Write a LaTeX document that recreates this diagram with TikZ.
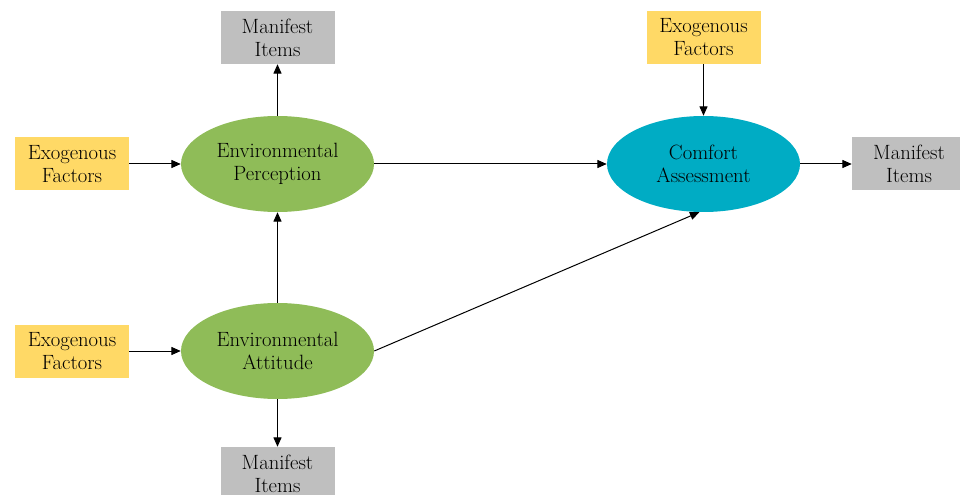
\documentclass[tikz,border=0pt]{standalone}
\usetikzlibrary{arrows.meta,shapes.geometric}
\definecolor{exoyellow}{HTML}{FFD966}
\definecolor{latgreen}{HTML}{8FBC58}
\definecolor{cmfblue}{HTML}{00ACC4}
\definecolor{mangray}{HTML}{BFBFBF}
\begin{document}
\begin{tikzpicture}[x=0.75pt,y=-0.75pt,
  txt/.style={font=\fontsize{15.5}{17.25}\selectfont, align=center, inner sep=0pt},
  exobox/.style={txt, fill=exoyellow, minimum width=85.5pt, minimum height=39.75pt},
  manbox/.style={txt, fill=mangray, minimum width=85.5pt, minimum height=39.75pt},
  latent/.style={txt, ellipse, minimum width=144.75pt, minimum height=72pt},
  conn/.style={-{Triangle[length=7pt,width=6pt]}, line width=0.75pt, black}]
\useasboundingbox (0,0) rectangle (960,495);
\clip (0,0) rectangle (960,495);
\node[manbox] (mtop) at (277.5,37.5) {Manifest\\Items};
\node[exobox] (exo1) at (72,164) {Exogenous\\Factors};
\node[latent, fill=latgreen] (perc) at (277.5,164) {Environmental\\Perception};
\node[exobox] (exo2) at (72,351) {Exogenous\\Factors};
\node[latent, fill=latgreen] (att) at (277.5,351) {Environmental\\Attitude};
\node[manbox] (mbot) at (277.5,473.5) {Manifest\\Items};
\node[exobox] (exo3) at (703.5,37.5) {Exogenous\\Factors};
\node[latent, fill=cmfblue] (cmf) at (703.5,164) {Comfort\\Assessment};
\node[manbox] (mright) at (909,164) {Manifest\\Items};
\draw[conn] (perc.north) -- (mtop.south);
\draw[conn] (exo1.east) -- (perc.west);
\draw[conn] (exo2.east) -- (att.west);
\draw[conn] (att.north) -- (perc.south);
\draw[conn] (att.south) -- (mbot.north);
\draw[conn] (perc.east) -- (cmf.west);
\draw[conn] (att.east) -- (cmf.265);
\draw[conn] (exo3.south) -- (cmf.north);
\draw[conn] (cmf.east) -- (mright.west);
\end{tikzpicture}
\end{document}
